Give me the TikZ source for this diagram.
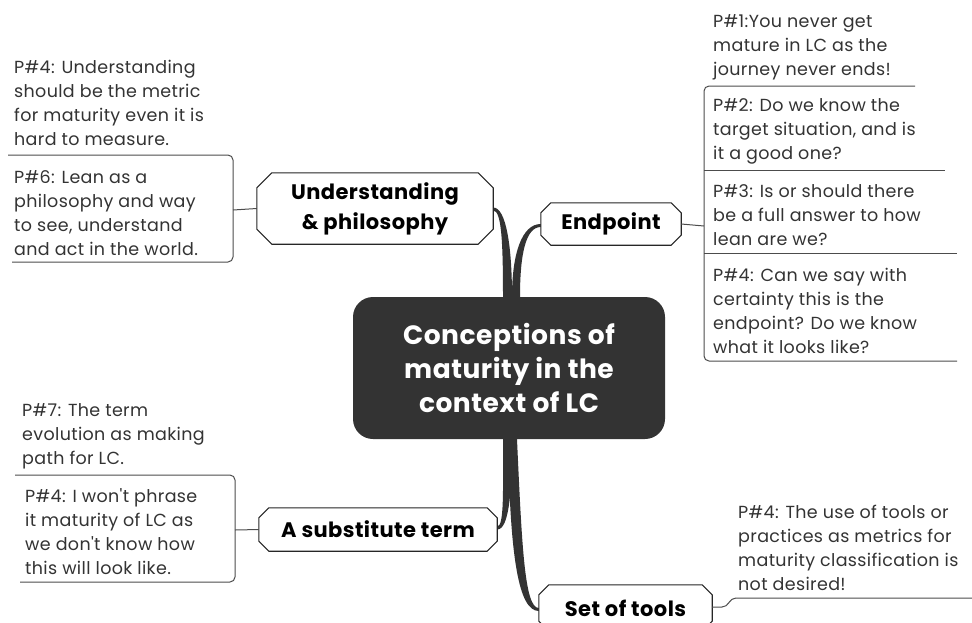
\documentclass[tikz,border=0pt]{standalone}
\usepackage{fontspec}
\usetikzlibrary{backgrounds}
\setmainfont{Poppins}
\newfontfamily\leaffont[LetterSpace=2]{Poppins}
\newfontfamily\topicfont[LetterSpace=2]{Poppins}
\begin{document}
\begin{tikzpicture}[x=1pt,y=-1pt,
  boxline/.style={draw=black!85,line width=1.1pt},
  leafline/.style={draw=black!70,line width=1pt,rounded corners=5pt},
  leaftext/.style={anchor=west,inner sep=0pt,align=left,text=black!80,font=\leaffont\fontsize{17.5}{24}\selectfont},
  topic/.style={inner sep=0pt,align=center,font=\topicfont\fontsize{21}{30}\selectfont\bfseries},
  central/.style={fill=black!80,rounded corners=20pt,minimum width=312pt,minimum height=142pt,text=white,align=center,font=\topicfont\fontsize{26.5}{34}\selectfont\bfseries},
  branch/.style={fill=black!80,draw=none}]
\useasboundingbox (0,0) rectangle (972,622);
% central
\node[central] (c) at (509,368) {Conceptions of\\maturity in the\\context of LC};
% topic nodes
\node[topic,minimum width=236pt,minimum height=71pt] (und) at (375,208.5) {Understanding\\\& philosophy};
\node[topic,minimum width=140pt,minimum height=42pt] (endp) at (611,224) {Endpoint};
\node[topic,minimum width=238pt,minimum height=43pt] (sub) at (378,529.5) {A substitute term};
\node[topic,minimum width=173pt,minimum height=46pt] (tools) at (625.5,608) {Set of tools};
\newcommand\chbox[2]{%
  \draw[boxline,fill=white] ([xshift=#2]#1.north west) -- ([xshift=-#2]#1.north east) -- ([yshift=-#2]#1.north east) -- ([yshift=#2]#1.south east) -- ([xshift=-#2]#1.south east) -- ([xshift=#2]#1.south west) -- ([yshift=#2]#1.south west) -- ([yshift=-#2]#1.north west) -- cycle;}
\begin{scope}[on background layer]
% branches
\fill[branch] ([xshift=-6pt]c.north) .. controls +(0,-58) and +(8,0) .. ([yshift=-2pt]und.east) -- ([yshift=1pt]und.east) .. controls +(13,0) and +(0,-50) .. ([xshift=3pt]c.north) -- cycle;
\fill[branch] ([xshift=3pt]c.north) .. controls +(0,-43) and +(-19,0) .. ([yshift=0pt]endp.west) -- ([yshift=-3pt]endp.west) .. controls +(-15,0) and +(0,-43) .. ([xshift=11pt]c.north) -- cycle;
\fill[branch] ([xshift=-6pt]c.south) .. controls +(0,52) and +(7,0) .. ([yshift=3pt]sub.east) -- ([yshift=0pt]sub.east) .. controls +(12,0) and +(0,52) .. ([xshift=3pt]c.south) -- cycle;
\fill[branch] ([xshift=-1pt]c.south) .. controls +(2,120) and +(-20,0) .. ([yshift=-3pt]tools.west) -- ([yshift=0pt]tools.west) .. controls +(-14,0) and +(5,110) .. ([xshift=8pt]c.south) -- cycle;
% chamfered boxes
\chbox{und}{15pt}
\chbox{endp}{10pt}
\chbox{sub}{10pt}
\chbox{tools}{10pt}
\end{scope}
% leaves: understanding
\node[leaftext] (u1) at (14,102.5) {P\#4: Understanding\\should be the metric\\for maturity even it is\\hard to measure.};
\node[leaftext] (u2) at (14,213) {P\#6: Lean as a\\philosophy and way\\to see, understand\\and act in the world.};
\coordinate (ub) at (233,210);
\draw[leafline] (8,155) -- (233,155) -- (233,262) -- (12,262);
\draw[leafline] (und.west) -- (ub);
% leaves: endpoint
\node[leaftext] (e1) at (713,47.5) {P\#1:You never get\\mature in LC as the\\journey never ends!};
\node[leaftext] (e2) at (713,131) {P\#2: Do we know the\\target situation, and is\\it a good one?};
\node[leaftext] (e3) at (713,215) {P\#3: Is or should there\\be a full answer to how\\lean are we?};
\node[leaftext] (e4) at (713,311) {P\#4: Can we say with\\certainty this is the\\endpoint? Do we know\\what it looks like?};
\coordinate (eb) at (704,226);
\draw[leafline] (915,86) -- (704,86) -- (704,361) -- (957,361);
\draw[leafline] (704,170) -- (945,170);
\draw[leafline] (704,253) -- (957,253);
\draw[leafline] (endp.east) -- (eb);
% leaves: substitute
\node[leaftext] (s1) at (22,436) {P\#7: The term\\evolution as making\\path for LC.};
\node[leaftext] (s2) at (25,532) {P\#4: I won't phrase\\it maturity of LC as\\we don't know how\\this will look like.};
\coordinate (sb) at (235,530);
\draw[leafline] (15,475) -- (235,475) -- (235,582) -- (20,582);
\draw[leafline] (sub.west) -- (sb);
% leaves: tools
\node[leaftext] (t1) at (738,547.5) {P\#4: The use of tools or\\practices as metrics for\\maturity classification is\\not desired!};
\coordinate (tb) at (972,598);
\draw[leafline] ([yshift=1pt]tools.east) -- (727,607) -- (731,598) -- (tb);
\end{tikzpicture}
\end{document}
